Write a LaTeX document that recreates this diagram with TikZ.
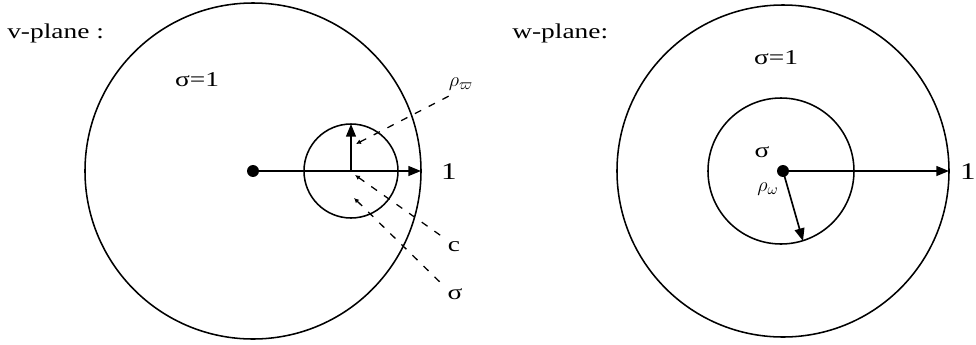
\documentclass[tikz,border=0pt]{standalone}
\usepackage{fontspec}
\setmainfont{Liberation Serif}[FakeStretch=1.3]
\usetikzlibrary{arrows.meta}
\begin{document}
\begin{tikzpicture}[x=0.025cm,y=-0.025cm,
  circ/.style={line width=1.1pt},
  dot/.style={circle,fill=black,inner sep=0pt,minimum size=8.5pt},
  radial/.style={line width=1.2pt,-{Triangle[length=9pt,width=7pt]}},
  leader/.style={line width=0.9pt,dash pattern=on 5pt off 6pt,{Latex[length=3.5pt,width=3.5pt]}-},
  lbl/.style={inner sep=0pt,font=\fontsize{15}{17}\selectfont},
  big/.style={inner sep=0pt,font=\fontsize{17}{19}\selectfont}]
\useasboundingbox (0,0) rectangle (976,344);
% ---------- v-plane ----------
\coordinate (vO) at (253,171);
\coordinate (vC) at (351,171);
\draw[circ] (vO) circle[radius=168];
\draw[circ] (vC) circle[radius=47];
\node[dot] (vdot) at (vO) {};
\coordinate (vR) at (421,171);
\coordinate (vT) at (351,124);
\draw[radial] (vdot.center) -- (vR);
\draw[radial] (vC) -- (vT);
\node[lbl,anchor=west] (vtitle) at (7,33) {v-plane :};
\node[lbl] (vsig) at (197,80) {σ=1};
\node[big] (vone) at (449,172) {1};
\node[lbl] (vrho) at (461,84) {$\rho_{\varpi}$};
\node[lbl] (vc) at (454,247) {c};
\node[lbl] (vs) at (455,294) {σ};
\coordinate (lrho) at (356,144);
\coordinate (lc) at (355,175);
\coordinate (ls) at (354,198);
\coordinate (erho) at (449,96);
\coordinate (ec) at (447,240);
\coordinate (es) at (445,287);
\draw[leader] (lrho) -- (erho);
\draw[leader] (lc) -- (ec);
\draw[leader] (ls) -- (es);
% ---------- w-plane ----------
\coordinate (wO) at (783,171);
\draw[circ] (wO) circle[radius=166];
\draw[circ] (781,171) circle[radius=73];
\node[dot] (wdot) at (wO) {};
\coordinate (wR) at (949,171);
\coordinate (wB) at (803,241);
\draw[radial] (wdot.center) -- (wR);
\draw[radial] (wdot.center) -- (wB);
\node[lbl,anchor=west] (wtitle) at (512,33) {w-plane:};
\node[lbl] (wsig) at (776,58) {σ=1};
\node[lbl] (wsig2) at (762,152) {σ};
\node[lbl] (wrho) at (768,189) {$\rho_{\omega}$};
\node[big,anchor=east] (wone) at (976,172) {1};
\end{tikzpicture}
\end{document}
